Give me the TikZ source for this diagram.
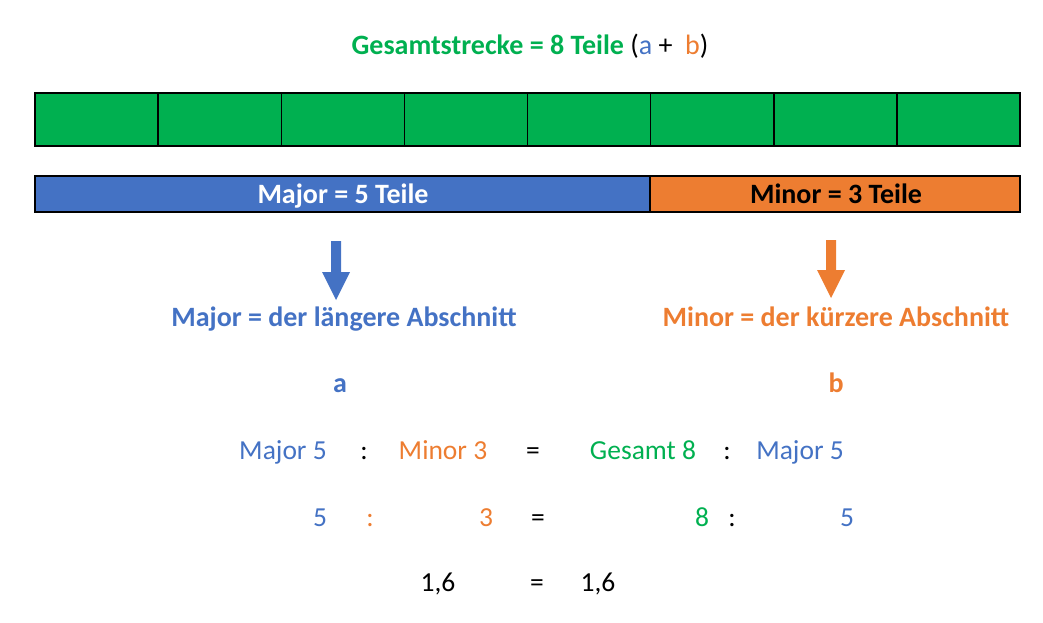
\documentclass[tikz,border=0pt]{standalone}
\usepackage{fontspec}
\setmainfont{Carlito}
\definecolor{cgreen}{HTML}{00B050}
\definecolor{cblue}{HTML}{4472C4}
\definecolor{corange}{HTML}{ED7D31}
\begin{document}
\begin{tikzpicture}[x=1pt,y=-1pt,
  bigtxt/.style={font=\fontsize{28}{32}\selectfont\bfseries, inner sep=0pt, anchor=base},
  eqtxt/.style={font=\fontsize{27.5}{32}\selectfont, inner sep=0pt, anchor=base},
  cell/.style={draw=black, line width=1.5pt, fill=cgreen},
  barbox/.style={draw=black, line width=1.5pt}]
\useasboundingbox (0,0) rectangle (1043,623);
% title
\node[bigtxt, text=cgreen] (title) at (530,55) {Gesamtstrecke = 8 Teile \textcolor{black}{\mdseries(}\textcolor{cblue}{\mdseries a}\textcolor{black}{\mdseries\ +\ \ }\textcolor{corange}{\mdseries b}\textcolor{black}{\mdseries)}};
% green bar
\foreach \i in {0,...,7} {
  \pgfmathsetmacro{\xa}{35+123.125*\i}
  \pgfmathsetmacro{\xb}{35+123.125*(\i+1)}
  \draw[cell] (\xa,93) rectangle (\xb,146);
}
% major / minor bars
\draw[barbox, fill=cblue] (35,176) rectangle (650,212);
\draw[barbox, fill=corange] (650,176) rectangle (1020,212);
\node[bigtxt, text=white] (major) at (343,203) {Major = 5 Teile};
\node[bigtxt, text=black] (minor) at (836,203) {Minor = 3 Teile};
% arrows
\fill[cblue] (331,241) -- (341,241) -- (341,272) -- (350,272) -- (336,300) -- (322,272) -- (331,272) -- cycle;
\fill[corange] (826,240) -- (836,240) -- (836,270) -- (845,270) -- (831,298) -- (817,270) -- (826,270) -- cycle;
% labels
\node[bigtxt, text=cblue] (majl) at (344,326) {Major = der längere Abschnitt};
\node[bigtxt, text=corange] (minl) at (836,326) {Minor = der kürzere Abschnitt};
\node[bigtxt, text=cblue] (a) at (340,392) {a};
\node[bigtxt, text=corange] (b) at (836,392) {b};
% row 1
\node[eqtxt, text=cblue] (r1a) at (283,459) {Major 5};
\node[eqtxt] (r1c1) at (364,459) {:};
\node[eqtxt, text=corange] (r1b) at (443,459) {Minor 3};
\node[eqtxt] (r1e) at (533,459) {=};
\node[eqtxt, text=cgreen] (r1g) at (643,459) {Gesamt 8};
\node[eqtxt] (r1c2) at (727,459) {:};
\node[eqtxt, text=cblue] (r1d) at (800,459) {Major 5};
% row 2
\node[eqtxt, text=cblue] (r2a) at (320,526) {5};
\node[eqtxt, text=corange] (r2c1) at (370,526) {:};
\node[eqtxt, text=corange] (r2b) at (486,526) {3};
\node[eqtxt] (r2e) at (538,526) {=};
\node[eqtxt, text=cgreen] (r2g) at (702,526) {8};
\node[eqtxt] (r2c2) at (732,526) {:};
\node[eqtxt, text=cblue] (r2d) at (847,526) {5};
% row 3
\node[eqtxt] (r3a) at (438,591) {1,6};
\node[eqtxt] (r3e) at (537,591) {=};
\node[eqtxt] (r3b) at (598,591) {1,6};
\end{tikzpicture}
\end{document}
